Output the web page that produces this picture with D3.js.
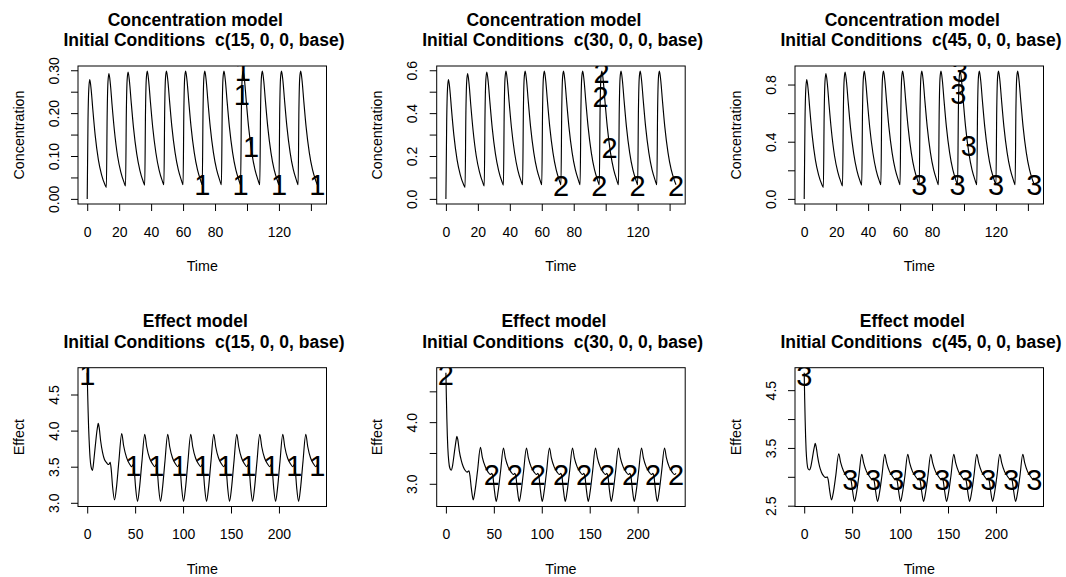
<!DOCTYPE html>
<html><head><meta charset="utf-8">
<script src="https://cdn.jsdelivr.net/npm/d3@7"></script>
<style>
body{margin:0;background:#fff}
svg{display:block}
text{font-family:"Liberation Sans",Arial,Helvetica,sans-serif;fill:#000}
</style>
</head><body>
<svg id="chart" width="1066" height="577"></svg>
<script>
// ---------------- DATA ----------------
const doses = ["15", "30", "45"];

const concTime = [
  0, 0.5, 1, 1.6, 2.5, 3.5, 5, 7, 9, 11,
  12, 12.5, 13, 13.6, 14.5, 15.5, 17, 19, 21, 23,
  24, 24.5, 25, 25.6, 26.5, 27.5, 29, 31, 33, 35,
  36, 36.5, 37, 37.6, 38.5, 39.5, 41, 43, 45, 47,
  48, 48.5, 49, 49.6, 50.5, 51.5, 53, 55, 57, 59,
  60, 60.5, 61, 61.6, 62.5, 63.5, 65, 67, 69, 71,
  72, 72.5, 73, 73.6, 74.5, 75.5, 77, 79, 81, 83,
  84, 84.5, 85, 85.6, 86.5, 87.5, 89, 91, 93, 95,
  96, 96.5, 97, 97.6, 98.5, 99.5, 101, 103, 105, 107,
  108, 108.5, 109, 109.6, 110.5, 111.5, 113, 115, 117, 119,
  120, 120.5, 121, 121.6, 122.5, 123.5, 125, 127, 129, 131,
  132, 132.5, 133, 133.6, 134.5, 135.5, 137, 139, 141, 143,
  144];

const conc15 = [
  0, 0.183, 0.257, 0.278, 0.254, 0.209, 0.148, 0.091, 0.056, 0.034,
  0.027, 0.198, 0.273, 0.292, 0.268, 0.222, 0.160, 0.100, 0.063, 0.039,
  0.030, 0.204, 0.278, 0.296, 0.272, 0.227, 0.165, 0.105, 0.066, 0.041,
  0.032, 0.207, 0.281, 0.298, 0.274, 0.229, 0.167, 0.107, 0.067, 0.042,
  0.033, 0.209, 0.282, 0.298, 0.275, 0.230, 0.168, 0.108, 0.068, 0.043,
  0.033, 0.209, 0.282, 0.298, 0.275, 0.230, 0.168, 0.108, 0.068, 0.043,
  0.033, 0.209, 0.282, 0.298, 0.275, 0.230, 0.168, 0.108, 0.068, 0.043,
  0.033, 0.209, 0.282, 0.298, 0.275, 0.230, 0.168, 0.108, 0.068, 0.043,
  0.033, 0.209, 0.282, 0.298, 0.275, 0.230, 0.168, 0.108, 0.068, 0.043,
  0.033, 0.209, 0.282, 0.298, 0.275, 0.230, 0.168, 0.108, 0.068, 0.043,
  0.033, 0.209, 0.282, 0.298, 0.275, 0.230, 0.168, 0.108, 0.068, 0.043,
  0.033, 0.209, 0.282, 0.298, 0.275, 0.230, 0.168, 0.108, 0.068, 0.043,
  0.033];

const conc30 = [
  0, 0.366, 0.514, 0.556, 0.508, 0.418, 0.296, 0.182, 0.112, 0.068,
  0.054, 0.396, 0.546, 0.584, 0.536, 0.444, 0.320, 0.200, 0.126, 0.078,
  0.060, 0.408, 0.556, 0.592, 0.544, 0.454, 0.330, 0.210, 0.132, 0.082,
  0.064, 0.414, 0.562, 0.596, 0.548, 0.458, 0.334, 0.214, 0.134, 0.084,
  0.066, 0.418, 0.564, 0.596, 0.550, 0.460, 0.336, 0.216, 0.136, 0.086,
  0.066, 0.418, 0.564, 0.596, 0.550, 0.460, 0.336, 0.216, 0.136, 0.086,
  0.066, 0.418, 0.564, 0.596, 0.550, 0.460, 0.336, 0.216, 0.136, 0.086,
  0.066, 0.418, 0.564, 0.596, 0.550, 0.460, 0.336, 0.216, 0.136, 0.086,
  0.066, 0.418, 0.564, 0.596, 0.550, 0.460, 0.336, 0.216, 0.136, 0.086,
  0.066, 0.418, 0.564, 0.596, 0.550, 0.460, 0.336, 0.216, 0.136, 0.086,
  0.066, 0.418, 0.564, 0.596, 0.550, 0.460, 0.336, 0.216, 0.136, 0.086,
  0.066, 0.418, 0.564, 0.596, 0.550, 0.460, 0.336, 0.216, 0.136, 0.086,
  0.066];

const conc45 = [
  0, 0.549, 0.771, 0.834, 0.762, 0.627, 0.444, 0.273, 0.168, 0.102,
  0.081, 0.594, 0.819, 0.876, 0.804, 0.666, 0.480, 0.300, 0.189, 0.117,
  0.090, 0.612, 0.834, 0.888, 0.816, 0.681, 0.495, 0.315, 0.198, 0.123,
  0.096, 0.621, 0.843, 0.894, 0.822, 0.687, 0.501, 0.321, 0.201, 0.126,
  0.099, 0.627, 0.846, 0.894, 0.825, 0.690, 0.504, 0.324, 0.204, 0.129,
  0.099, 0.627, 0.846, 0.894, 0.825, 0.690, 0.504, 0.324, 0.204, 0.129,
  0.099, 0.627, 0.846, 0.894, 0.825, 0.690, 0.504, 0.324, 0.204, 0.129,
  0.099, 0.627, 0.846, 0.894, 0.825, 0.690, 0.504, 0.324, 0.204, 0.129,
  0.099, 0.627, 0.846, 0.894, 0.825, 0.690, 0.504, 0.324, 0.204, 0.129,
  0.099, 0.627, 0.846, 0.894, 0.825, 0.690, 0.504, 0.324, 0.204, 0.129,
  0.099, 0.627, 0.846, 0.894, 0.825, 0.690, 0.504, 0.324, 0.204, 0.129,
  0.099, 0.627, 0.846, 0.894, 0.825, 0.690, 0.504, 0.324, 0.204, 0.129,
  0.099];

const effTime = [
  0, 0.5, 1, 1.5, 2, 3, 4, 5.5, 7, 8, 9, 10, 11, 11.5, 12.5, 14, 16, 18, 20, 22, 23, 24,
  25, 26.5, 28.5, 30.5, 33, 36, 38, 41, 44, 46.5, 48,
  49, 50.5, 52.5, 54.5, 57, 60, 62, 65, 68, 70.5, 72,
  73, 74.5, 76.5, 78.5, 81, 84, 86, 89, 92, 94.5, 96,
  97, 98.5, 100.5, 102.5, 105, 108, 110, 113, 116, 118.5, 120,
  121, 122.5, 124.5, 126.5, 129, 132, 134, 137, 140, 142.5, 144,
  145, 146.5, 148.5, 150.5, 153, 156, 158, 161, 164, 166.5, 168,
  169, 170.5, 172.5, 174.5, 177, 180, 182, 185, 188, 190.5, 192,
  193, 194.5, 196.5, 198.5, 201, 204, 206, 209, 212, 214.5, 216,
  217, 218.5, 220.5, 222.5, 225, 228, 230, 233, 236, 238.5, 240];

const eff15 = [
  4.80, 4.50, 4.25, 4.03, 3.87, 3.62, 3.50, 3.45, 3.60, 3.73, 3.86, 3.98, 4.07, 4.10, 4.04, 3.86, 3.70, 3.60, 3.56, 3.53, 3.54, 3.56,
  3.47, 3.22, 3.04, 3.21, 3.57, 3.96, 3.79, 3.63, 3.54, 3.50, 3.53,
  3.46, 3.21, 3.02, 3.20, 3.56, 3.95, 3.78, 3.62, 3.54, 3.50, 3.53,
  3.46, 3.21, 3.02, 3.20, 3.56, 3.95, 3.78, 3.62, 3.54, 3.50, 3.53,
  3.46, 3.21, 3.02, 3.20, 3.56, 3.95, 3.78, 3.62, 3.54, 3.50, 3.53,
  3.46, 3.21, 3.02, 3.20, 3.56, 3.95, 3.78, 3.62, 3.54, 3.50, 3.53,
  3.46, 3.21, 3.02, 3.20, 3.56, 3.95, 3.78, 3.62, 3.54, 3.50, 3.53,
  3.46, 3.21, 3.02, 3.20, 3.56, 3.95, 3.78, 3.62, 3.54, 3.50, 3.53,
  3.46, 3.21, 3.02, 3.20, 3.56, 3.95, 3.78, 3.62, 3.54, 3.50, 3.53,
  3.46, 3.21, 3.02, 3.20, 3.56, 3.95, 3.78, 3.62, 3.54, 3.50, 3.53];

const eff30 = [
  4.80, 4.40, 4.05, 3.78, 3.58, 3.36, 3.26, 3.22, 3.30, 3.41, 3.53, 3.64, 3.74, 3.77, 3.71, 3.53, 3.38, 3.28, 3.22, 3.19, 3.20, 3.21,
  3.14, 2.93, 2.74, 2.90, 3.21, 3.59, 3.43, 3.28, 3.19, 3.15, 3.17,
  3.12, 2.91, 2.715, 2.88, 3.20, 3.58, 3.42, 3.27, 3.19, 3.15, 3.17,
  3.12, 2.91, 2.715, 2.88, 3.20, 3.58, 3.42, 3.27, 3.19, 3.15, 3.17,
  3.12, 2.91, 2.715, 2.88, 3.20, 3.58, 3.42, 3.27, 3.19, 3.15, 3.17,
  3.12, 2.91, 2.715, 2.88, 3.20, 3.58, 3.42, 3.27, 3.19, 3.15, 3.17,
  3.12, 2.91, 2.715, 2.88, 3.20, 3.58, 3.42, 3.27, 3.19, 3.15, 3.17,
  3.12, 2.91, 2.715, 2.88, 3.20, 3.58, 3.42, 3.27, 3.19, 3.15, 3.17,
  3.12, 2.91, 2.715, 2.88, 3.20, 3.58, 3.42, 3.27, 3.19, 3.15, 3.17,
  3.12, 2.91, 2.715, 2.88, 3.20, 3.58, 3.42, 3.27, 3.19, 3.15, 3.17];

const eff45 = [
  4.80, 4.35, 3.98, 3.68, 3.46, 3.23, 3.14, 3.12, 3.18, 3.27, 3.37, 3.47, 3.55, 3.58, 3.52, 3.35, 3.18, 3.08, 3.02, 2.99, 2.99, 3.00,
  2.95, 2.77, 2.60, 2.74, 3.03, 3.40, 3.25, 3.10, 3.01, 2.96, 2.98,
  2.93, 2.75, 2.575, 2.72, 3.01, 3.39, 3.24, 3.09, 3.01, 2.96, 2.98,
  2.93, 2.75, 2.575, 2.72, 3.01, 3.39, 3.24, 3.09, 3.01, 2.96, 2.98,
  2.93, 2.75, 2.575, 2.72, 3.01, 3.39, 3.24, 3.09, 3.01, 2.96, 2.98,
  2.93, 2.75, 2.575, 2.72, 3.01, 3.39, 3.24, 3.09, 3.01, 2.96, 2.98,
  2.93, 2.75, 2.575, 2.72, 3.01, 3.39, 3.24, 3.09, 3.01, 2.96, 2.98,
  2.93, 2.75, 2.575, 2.72, 3.01, 3.39, 3.24, 3.09, 3.01, 2.96, 2.98,
  2.93, 2.75, 2.575, 2.72, 3.01, 3.39, 3.24, 3.09, 3.01, 2.96, 2.98,
  2.93, 2.75, 2.575, 2.72, 3.01, 3.39, 3.24, 3.09, 3.01, 2.96, 2.98];

// marker (series number) positions
const concMarkT15 = [72, 96, 96.8, 97.4, 102.5, 120, 144];
const concMarkV15 = [0.033, 0.033, 0.244, 0.300, 0.122, 0.033, 0.033];
const concMarkT30 = [72, 96, 96.8, 97.4, 102.5, 120, 144];
const concMarkV30 = [0.064, 0.064, 0.477, 0.590, 0.241, 0.064, 0.064];
const concMarkT45 = [72, 96, 96.5, 97.6, 103, 120, 144];
const concMarkV45 = [0.098, 0.098, 0.737, 0.890, 0.370, 0.098, 0.098];

const effMarkT = [0, 48, 72, 96, 120, 144, 168, 192, 216, 240];
const effMarkV15 = [4.78, 3.52, 3.52, 3.52, 3.52, 3.52, 3.52, 3.52, 3.52, 3.52];
const effMarkV30 = [4.77, 3.15, 3.15, 3.15, 3.15, 3.15, 3.15, 3.15, 3.15, 3.15];
const effMarkV45 = [4.76, 2.96, 2.96, 2.96, 2.96, 2.96, 2.96, 2.96, 2.96, 2.96];

// axis ticks and tick labels
const concXTicks = [0, 20, 40, 60, 80, 100, 120, 140];
const concXLabels = ["0", "20", "40", "60", "80", "", "120", ""];
const effXTicks = [0, 50, 100, 150, 200];
const effXLabels = ["0", "50", "100", "150", "200"];
const yTicks15c = [0, 0.05, 0.10, 0.15, 0.20, 0.25, 0.30];
const yLabels15c = ["0.00", "", "0.10", "", "0.20", "", "0.30"];
const yTicks30c = [0, 0.1, 0.2, 0.3, 0.4, 0.5, 0.6];
const yLabels30c = ["0.0", "", "0.2", "", "0.4", "", "0.6"];
const yTicks45c = [0, 0.2, 0.4, 0.6, 0.8];
const yLabels45c = ["0.0", "", "0.4", "", "0.8"];
const yTicks15e = [3.0, 3.5, 4.0, 4.5];
const yLabels15e = ["3.0", "3.5", "4.0", "4.5"];
const yTicks30e = [3.0, 3.5, 4.0, 4.5];
const yLabels30e = ["3.0", "", "4.0", ""];
const yTicks45e = [2.5, 3.0, 3.5, 4.0, 4.5];
const yLabels45e = ["2.5", "", "3.5", "", "4.5"];

const titleTop = ["Concentration model", "Effect model"];
const yTitles = ["Concentration", "Effect"];
const xTitle = "Time";

// ---------------- LAYOUT ----------------
const colLeft = [78, 436.7, 795];
const plotW = 248.5;
const rowTop = [66, 367.7];
const plotH = [138, 138.8];

const panels = [
  {row:0, col:0, t:concTime, v:conc15, mt:concMarkT15, mv:concMarkV15, xt:concXTicks, xl:concXLabels, yt:yTicks15c, yl:yLabels15c, mark:"1", dose:doses[0]},
  {row:0, col:1, t:concTime, v:conc30, mt:concMarkT30, mv:concMarkV30, xt:concXTicks, xl:concXLabels, yt:yTicks30c, yl:yLabels30c, mark:"2", dose:doses[1]},
  {row:0, col:2, t:concTime, v:conc45, mt:concMarkT45, mv:concMarkV45, xt:concXTicks, xl:concXLabels, yt:yTicks45c, yl:yLabels45c, mark:"3", dose:doses[2]},
  {row:1, col:0, t:effTime, v:eff15, mt:effMarkT, mv:effMarkV15, xt:effXTicks, xl:effXLabels, yt:yTicks15e, yl:yLabels15e, mark:"1", dose:doses[0]},
  {row:1, col:1, t:effTime, v:eff30, mt:effMarkT, mv:effMarkV30, xt:effXTicks, xl:effXLabels, yt:yTicks30e, yl:yLabels30e, mark:"2", dose:doses[1]},
  {row:1, col:2, t:effTime, v:eff45, mt:effMarkT, mv:effMarkV45, xt:effXTicks, xl:effXLabels, yt:yTicks45e, yl:yLabels45e, mark:"3", dose:doses[2]}
];

const svg = d3.select("#chart");
const FONT = '"Liberation Sans",Arial,Helvetica,sans-serif';

function padded(ext) {
  const d = ext[1] - ext[0];
  return [ext[0] - 0.04 * d, ext[1] + 0.04 * d];
}

panels.forEach((p, i) => {
  const left = colLeft[p.col], top = rowTop[p.row], h = plotH[p.row];
  const x = d3.scaleLinear().domain(padded(d3.extent(p.t))).range([left, left + plotW]);
  const y = d3.scaleLinear().domain(padded(d3.extent(p.v))).range([top + h, top]);
  const g = svg.append("g");

  const clipId = "clip" + i;
  g.append("clipPath").attr("id", clipId)
    .append("rect").attr("x", left).attr("y", top).attr("width", plotW).attr("height", h);

  const pts = p.t.map((t, k) => [t, p.v[k]]);
  const line = d3.line().x(d => x(d[0])).y(d => y(d[1])).curve(d3.curveMonotoneX);
  g.append("path").attr("d", line(pts))
    .attr("fill", "none").attr("stroke", "#000").attr("stroke-width", 1.15)
    .attr("clip-path", `url(#${clipId})`);

  // series number markers
  const mk = p.mt.map((t, k) => [t, p.mv[k]]);
  g.append("g").attr("clip-path", `url(#${clipId})`)
    .selectAll("text").data(mk).join("text")
    .attr("x", d => x(d[0])).attr("y", d => y(d[1]))
    .attr("dy", "0.36em").attr("text-anchor", "middle")
    .style("font-size", "29px").text(p.mark);

  // box
  g.append("rect").attr("x", left).attr("y", top).attr("width", plotW).attr("height", h)
    .attr("fill", "none").attr("stroke", "#000").attr("stroke-width", 1);

  // x axis
  const xa = g.append("g").attr("transform", `translate(0,${top + h})`)
    .call(d3.axisBottom(x).tickValues(p.xt).tickSize(7).tickPadding(16)
      .tickFormat((d, k) => p.xl[k]));
  xa.select(".domain").remove();
  xa.attr("font-size", 14).attr("font-family", FONT);
  xa.selectAll("line").attr("stroke", "#000");
  xa.selectAll("text").attr("fill", "#000");

  // y axis
  const ya = g.append("g").attr("transform", `translate(${left},0)`)
    .call(d3.axisLeft(y).tickValues(p.yt).tickSize(7)
      .tickFormat((d, k) => p.yl[k]));
  ya.select(".domain").remove();
  ya.attr("font-size", 14).attr("font-family", FONT);
  ya.selectAll("line").attr("stroke", "#000");
  ya.selectAll("text").attr("fill", "#000").attr("x", null).attr("dy", null).attr("y", 0)
    .attr("text-anchor", "middle").attr("transform", "translate(-19.5,0) rotate(-90)");

  // titles
  const cx = left + plotW / 2;
  g.append("text").attr("x", cx - 7).attr("y", top - 40.3).attr("text-anchor", "middle")
    .style("font-size", "17.5px").style("font-weight", "bold").text(titleTop[p.row]);
  g.append("text").attr("x", cx + 1.7).attr("y", top - 19.8).attr("text-anchor", "middle")
    .style("font-size", "17.5px").style("font-weight", "bold")
    .style("white-space", "pre").attr("xml:space", "preserve")
    .text("Initial Conditions  c(" + p.dose + ", 0, 0, base)");

  // axis titles
  g.append("text").attr("x", cx).attr("y", top + h + 67).attr("text-anchor", "middle")
    .style("font-size", "14.3px").text(xTitle);
  const yx = left - 54.5, yy = top + h / 2;
  g.append("text").attr("transform", `translate(${yx},${yy}) rotate(-90)`)
    .attr("text-anchor", "middle").style("font-size", "14.3px").text(yTitles[p.row]);
});
</script>
</body></html>
